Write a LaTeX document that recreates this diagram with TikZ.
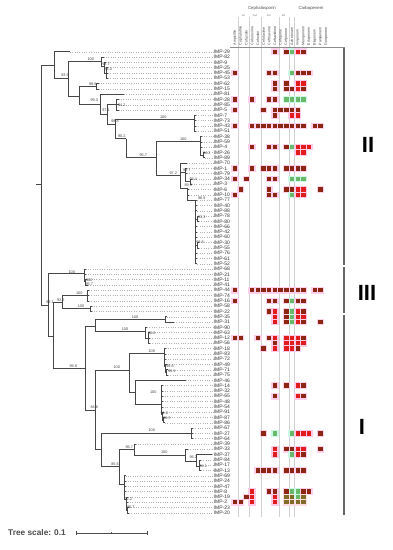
\documentclass[tikz,border=0pt]{standalone}
\usepackage{fontspec}
\setmainfont{Liberation Sans}
\definecolor{cB}{RGB}{140,38,18}
\definecolor{cR}{RGB}{226,28,28}
\definecolor{cG}{RGB}{105,185,105}
\definecolor{cO}{RGB}{128,108,38}
\definecolor{hB}{RGB}{255,208,236}
\definecolor{hR}{RGB}{255,202,232}
\definecolor{hG}{RGB}{205,250,232}
\definecolor{hO}{RGB}{250,222,228}
\tikzset{
  branch/.style={draw=black!72, line width=0.6pt},
  leader/.style={draw=black!30, dotted, line width=0.35pt},
  leaflab/.style={anchor=west, inner sep=0pt, text=black!80, font=\fontsize{5}{5}\selectfont},
  boot/.style={inner sep=0pt, text=black!75, font=\fontsize{3.8}{4}\selectfont},
  druglab/.style={rotate=90, anchor=west, inner sep=0pt, text=black!75, font=\fontsize{3.6}{4}\selectfont},
  classlab/.style={inner sep=0pt, text=black!70, font=\fontsize{4.3}{5}\selectfont},
  genlab/.style={inner sep=0pt, text=black!60, font=\fontsize{2.4}{3}\selectfont},
  gridline/.style={draw=black!18, line width=0.5pt},
  groupbar/.style={draw=black!60, line width=1.3pt},
  grouplab/.style={inner sep=0pt, font=\fontsize{22}{22}\selectfont\bfseries},
}
\begin{document}
\begin{tikzpicture}[x=1pt,y=-1pt]
    \useasboundingbox (0,0) rectangle (392,550);
    % Colonnes de la carte
    \foreach \gx in {238.3,249.6,260.8,278.8,289.6,294.3}
        \draw[gridline] (\gx,17) -- (\gx,517);
    \node[classlab] (ceph) at (262,8.5) {Cephalosporin};
    \node[classlab] (carb) at (311,8.5) {Carbapenem};
    \node[genlab] (g1) at (243.5,16) {1st};
    \node[genlab] (g2) at (254.9,16) {2nd};
    \node[genlab] (g3) at (268.7,16) {3rd};
    \node[genlab] (g4) at (283.5,16) {4th};
    \foreach \dn [count=\k from 0] in {Ampicillin,Cephalothin,Cefazolin,Cefuroxime,Cefoxitin,Cefotaxime,Ceftriaxone,Ceftazidime,Cefepime,Cefpirome,Aztreonam,Imipenem,Meropenem,Ertapenem,Biapenem,Panipenem,Doripenem}
        \node[druglab] (d\k) at ({235+5.7*\k},45.5) {\dn};
    \coordinate (hl) at (230,47.5);
    \coordinate (hr) at (345,47.5);
    \draw[draw=black!45, line width=0.5pt] (hl) -- (hr);
    % Carte de chaleur
    \foreach \r/\k/\cc in {0/7/B,0/9/B,0/10/G,0/11/R,0/12/B,
        4/0/B,4/6/B,4/7/B,4/10/G,4/11/B,4/12/B,4/13/B,
        6/7/B,6/9/B,6/11/R,6/12/R,
        7/7/B,7/9/B,7/10/B,7/11/R,7/12/B,
        9/0/B,9/3/B,9/6/B,9/7/B,9/9/G,9/10/G,9/11/G,9/12/G,
        11/0/B,11/5/B,11/7/B,11/8/B,11/9/B,11/10/B,11/11/B,
        12/7/B,12/10/R,12/11/R,
        14/0/B,14/3/B,14/4/B,14/5/B,14/6/B,14/7/B,14/8/B,14/9/B,14/10/B,14/11/B,14/12/B,14/14/B,14/15/B,
        18/3/B,18/6/B,18/7/B,18/9/B,18/10/G,18/11/R,18/12/R,18/13/R,
        19/11/R,19/12/R,
        22/0/B,22/3/B,22/5/B,22/6/B,22/7/B,22/9/B,22/10/B,22/11/B,22/12/B,
        24/0/B,24/2/B,24/6/B,24/7/B,24/10/G,24/11/G,24/12/G,
        26/1/B,26/6/B,26/9/B,26/10/B,26/11/R,26/12/R,26/15/B,
        27/0/B,27/6/B,27/7/B,27/10/G,27/11/R,27/12/R,
        45/0/B,45/3/B,45/4/B,45/5/B,45/6/B,45/7/B,45/8/B,45/9/B,45/10/B,45/11/B,45/12/B,45/14/B,45/15/B,
        47/0/B,47/6/B,47/7/B,47/9/B,47/10/G,47/11/B,47/12/B,
        49/6/B,49/7/R,49/9/B,49/10/G,49/11/R,49/12/B,
        50/7/R,50/9/B,50/10/G,50/11/R,50/12/R,
        51/7/R,51/9/B,51/10/G,51/11/R,51/12/B,51/15/B,
        54/0/B,54/1/B,54/4/B,54/6/B,54/7/R,54/9/R,54/10/R,54/11/R,54/12/B,
        55/7/B,55/9/R,55/10/R,55/11/R,55/12/R,
        56/5/B,56/7/R,56/9/R,56/10/R,56/11/B,
        63/7/B,63/9/B,63/11/R,63/12/B,
        65/7/B,65/11/R,65/12/B,
        72/5/B,72/7/G,72/10/G,72/11/R,72/12/R,72/13/R,72/15/B,
        75/7/R,75/9/B,75/10/B,75/11/R,75/12/R,75/15/B,
        76/7/R,76/10/G,76/11/R,76/12/B,
        79/4/B,79/5/B,79/6/B,79/7/B,79/9/B,79/10/B,79/11/B,79/12/B,
        83/3/R,83/6/B,83/7/B,83/9/B,83/10/G,83/11/G,83/12/B,83/13/B,
        84/2/B,84/3/R,84/7/R,84/9/O,84/10/O,84/11/G,84/12/O,
        85/0/B,85/1/B,85/3/R,85/7/R,85/9/O,85/10/O,85/11/O,85/12/O}
    {
        \fill[h\cc] ({235+5.7*\k-3.7},{51.7+5.3*\r-3.3}) rectangle ++(7.4,6.6);
    }
    \foreach \r/\k/\cc in {0/7/B,0/9/B,0/10/G,0/11/R,0/12/B,
        4/0/B,4/6/B,4/7/B,4/10/G,4/11/B,4/12/B,4/13/B,
        6/7/B,6/9/B,6/11/R,6/12/R,
        7/7/B,7/9/B,7/10/B,7/11/R,7/12/B,
        9/0/B,9/3/B,9/6/B,9/7/B,9/9/G,9/10/G,9/11/G,9/12/G,
        11/0/B,11/5/B,11/7/B,11/8/B,11/9/B,11/10/B,11/11/B,
        12/7/B,12/10/R,12/11/R,
        14/0/B,14/3/B,14/4/B,14/5/B,14/6/B,14/7/B,14/8/B,14/9/B,14/10/B,14/11/B,14/12/B,14/14/B,14/15/B,
        18/3/B,18/6/B,18/7/B,18/9/B,18/10/G,18/11/R,18/12/R,18/13/R,
        19/11/R,19/12/R,
        22/0/B,22/3/B,22/5/B,22/6/B,22/7/B,22/9/B,22/10/B,22/11/B,22/12/B,
        24/0/B,24/2/B,24/6/B,24/7/B,24/10/G,24/11/G,24/12/G,
        26/1/B,26/6/B,26/9/B,26/10/B,26/11/R,26/12/R,26/15/B,
        27/0/B,27/6/B,27/7/B,27/10/G,27/11/R,27/12/R,
        45/0/B,45/3/B,45/4/B,45/5/B,45/6/B,45/7/B,45/8/B,45/9/B,45/10/B,45/11/B,45/12/B,45/14/B,45/15/B,
        47/0/B,47/6/B,47/7/B,47/9/B,47/10/G,47/11/B,47/12/B,
        49/6/B,49/7/R,49/9/B,49/10/G,49/11/R,49/12/B,
        50/7/R,50/9/B,50/10/G,50/11/R,50/12/R,
        51/7/R,51/9/B,51/10/G,51/11/R,51/12/B,51/15/B,
        54/0/B,54/1/B,54/4/B,54/6/B,54/7/R,54/9/R,54/10/R,54/11/R,54/12/B,
        55/7/B,55/9/R,55/10/R,55/11/R,55/12/R,
        56/5/B,56/7/R,56/9/R,56/10/R,56/11/B,
        63/7/B,63/9/B,63/11/R,63/12/B,
        65/7/B,65/11/R,65/12/B,
        72/5/B,72/7/G,72/10/G,72/11/R,72/12/R,72/13/R,72/15/B,
        75/7/R,75/9/B,75/10/B,75/11/R,75/12/R,75/15/B,
        76/7/R,76/10/G,76/11/R,76/12/B,
        79/4/B,79/5/B,79/6/B,79/7/B,79/9/B,79/10/B,79/11/B,79/12/B,
        83/3/R,83/6/B,83/7/B,83/9/B,83/10/G,83/11/G,83/12/B,83/13/B,
        84/2/B,84/3/R,84/7/R,84/9/O,84/10/O,84/11/G,84/12/O,
        85/0/B,85/1/B,85/3/R,85/7/R,85/9/O,85/10/O,85/11/O,85/12/O}
    {
        \fill[c\cc] ({235+5.7*\k-2.2},{51.7+5.3*\r-2.2}) rectangle ++(4.4,4.4);
    }
    % Noeuds internes
    \coordinate (stub) at (36,184);
    \coordinate (root) at (41,184);
    \coordinate (A) at (54.3,65);
    \coordinate (B) at (68.3,78.3);
    \coordinate (C) at (101.7,61.7);
    \coordinate (C1) at (104,66.5);
    \coordinate (C2) at (106.3,72.9);
    \coordinate (D) at (79.3,96.7);
    \coordinate (E) at (96.7,86.2);
    \coordinate (F) at (100,104);
    \coordinate (G) at (107.7,114);
    \coordinate (H) at (116.7,104.7);
    \coordinate (I) at (115,124);
    \coordinate (Pc) at (194.3,119);
    \coordinate (J) at (126,138.5);
    \coordinate (K) at (156.7,157.3);
    \coordinate (Qc) at (200,141.7);
    \coordinate (Qd) at (203,155);
    \coordinate (L) at (180,175.7);
    \coordinate (L1a) at (185.3,172);
    \coordinate (L1b) at (190,181.5);
    \coordinate (L2) at (187.3,188);
    \coordinate (L3) at (195.7,200);
    \coordinate (N1) at (197.5,219);
    \coordinate (N2) at (197.5,245);
    \coordinate (M) at (48.3,305);
    \coordinate (N) at (84,273.3);
    \coordinate (Na) at (85.5,281);
    \coordinate (Nb) at (86.5,284.9);
    \coordinate (P) at (53.3,336.7);
    \coordinate (Q) at (62.7,302);
    \coordinate (Qa) at (87.3,295.5);
    \coordinate (Qb) at (90,308.7);
    \coordinate (R) at (85,368.3);
    \coordinate (S) at (95,326);
    \coordinate (S1) at (165,319.3);
    \coordinate (S2) at (145.7,331.7);
    \coordinate (S2a) at (148.5,338);
    \coordinate (T) at (95,410);
    \coordinate (U) at (129.3,370);
    \coordinate (U1) at (164,353.3);
    \coordinate (U1a) at (165.3,366.7);
    \coordinate (U1b) at (166.3,372.3);
    \coordinate (U2) at (135.7,392);
    \coordinate (U2b) at (161,404);
    \coordinate (U2c) at (162.3,414.7);
    \coordinate (U2d) at (163.3,420);
    \coordinate (V) at (101.7,449);
    \coordinate (V1) at (191.7,433);
    \coordinate (V2) at (119.3,466.7);
    \coordinate (W) at (134,449.3);
    \coordinate (W2) at (185,455);
    \coordinate (W3) at (196.7,461.7);
    \coordinate (W4) at (199.3,466.7);
    \coordinate (X) at (124,484);
    \coordinate (X1) at (126.3,499.5);
    \coordinate (X2) at (127.7,510);
    % Branches
    \draw[branch] (stub) -- (root);
    \foreach \pa/\ch in {root/A,root/M,A/B,B/C,B/D,C/C1,C1/C2,D/E,D/F,F/G,G/H,G/I,I/Pc,I/J,J/K,K/Qc,K/L,Qc/Qd,
        L/L1a,L1a/L1b,L/L2,L2/L3,L3/N1,L3/N2,M/N,M/P,N/Na,Na/Nb,P/Q,P/R,Q/Qa,Q/Qb,R/S,R/T,S/S1,S/S2,S2/S2a,
        T/U,T/V,U/U1,U/U2,U1/U1a,U1a/U1b,U2/U2b,U2b/U2c,U2c/U2d,V/V1,V/V2,V2/W,V2/X,W/W2,W2/W3,W3/W4,X/X1,X1/X2}
        \draw[branch] (\pa) |- (\ch);
    % Feuilles
    \foreach \n [count=\i from 0] in {29,82,9,25,45,53,62,15,81,28,85,5,7,73,43,51,38,59,4,26,89,70,1,79,34,3,6,10,77,40,
        88,78,80,66,42,60,30,55,76,61,52,68,21,11,41,44,74,16,58,22,35,31,90,63,12,56,18,83,72,49,71,75,46,14,32,65,48,
        54,91,87,86,67,27,64,39,33,37,84,17,13,69,24,47,8,19,2,23,20}
        \node[leaflab] (l\i) at (213.5,{51.7+5.3*\i}) {IMP-\n};
    \foreach \i/\tx/\pa in {0/70/A,1/103.5/C,2/105.5/C1,3/108/C2,4/108/C2,5/108/C2,6/98.5/E,7/98.5/E,8/124/F,
        9/118.5/H,10/118.5/H,11/118.5/H,12/196/Pc,13/196/Pc,14/196/Pc,15/196/Pc,16/201.5/Qc,17/201.5/Qc,18/201.5/Qc,
        19/204.5/Qd,20/204.5/Qd,21/187/L,22/187/L1a,23/187/L1a,24/191.5/L1b,25/191.5/L1b,26/189/L2,27/189/L2,
        28/197.3/L3,29/197.3/L3,30/197.3/L3,31/199/N1,32/199/N1,33/197.3/L3,34/197.3/L3,35/197.3/L3,36/199/N2,
        37/199/N2,38/197.3/L3,39/197.3/L3,40/197.3/L3,41/85.5/N,42/85.5/N,43/87/Na,44/88/Nb,45/89/Qa,46/89/Qa,
        47/89/Qa,48/91.5/Qb,49/91.5/Qb,50/166.5/S1,51/174/S1,52/147/S2,53/150/S2a,54/150/S2a,55/150/S2a,
        56/165.5/U1,57/165.5/U1,58/165.5/U1,59/167/U1a,60/168/U1b,61/168/U1b,62/185.7/U2,63/162.5/U2b,
        64/162.5/U2b,65/162.5/U2b,66/162.5/U2b,67/162.5/U2b,68/164/U2c,69/165/U2d,70/165/U2d,71/193/V1,
        72/193/V1,73/193/V1,74/135.5/W,75/188/W2,76/212/W3,77/201/W4,78/201/W4,79/201/W4,80/125.5/X,
        81/125.5/X,82/125.5/X,83/125.5/X,84/127.5/X1,85/127.5/X1,86/129/X2,87/129/X2}
    {
        \coordinate (t\i) at (\tx,{51.7+5.3*\i});
        \draw[branch] (\pa) |- (t\i);
        \draw[leader] (t\i) -- (l\i.west);
    }
    % Valeurs de bootstrap
    \foreach \bx/\by/\bt [count=\j] in {65/75.5/93.9,90.7/59.3/100,106/64/98.7,108.3/69.3/84.0,92.7/84/99.9,
        94.3/100.5/99.3,106/110/97.1,121.7/105/94.2,115/121/98.8,121.7/136.5/90.2,163.3/117.3/100,143.3/155/95.7,
        183.3/139.3/100,206.7/152.7/94.2,173.3/173.3/97.2,186.7/170/99.7,193.3/179/93.4,188.3/185.3/89.9,
        201.7/197.7/96.9,201.7/216.7/93.3,200/242.3/99.8,71.7/271.7/100,89.3/280.5/100,89.3/284.5/95.7,
        50/302.3/99.1,60.7/300.5/93.2,79.3/293.5/100,81/306.5/100,135/317.3/100,125/329.3/100,151.7/332.7/92.8,
        151.7/351/100,116.7/367.5/100,170/365.7/99.6,171.7/370.7/99.3,73.3/365.7/99.8,153.3/392.3/100,
        164.3/413.3/91.0,166.7/417.7/90.5,94.3/407.3/84.6,151.7/430.5/100,129.3/447/96.7,164.3/452.3/100,
        193.3/457.3/96.2,115/464.5/85.6,203.3/465.7/94.1,128.3/499.3/92.2,130.7/506.7/90.7}
        \node[boot] (b\j) at (\bx,\by) {\bt};
    % Groupes
    \coordinate (gA) at (344,47.5);
    \coordinate (gB) at (344,265.3);
    \coordinate (gC) at (344,267.3);
    \coordinate (gD) at (344,312.8);
    \coordinate (gE) at (344,314.8);
    \coordinate (gF) at (344,515);
    \draw[groupbar] (gA) -- (gB);
    \draw[groupbar] (gC) -- (gD);
    \draw[groupbar] (gE) -- (gF);
    \node[grouplab] (gII) at (368,145) {II};
    \node[grouplab] (gIII) at (367,293) {III};
    \node[grouplab] (gI) at (362,427) {I};
    % Echelle
    \node[inner sep=0pt, text=black!70, font=\fontsize{8.3}{9}\selectfont\bfseries] (scale) at (37,533) {Tree scale: 0.1};
    \coordinate (sbL) at (76,533);
    \coordinate (sbM) at (111.5,533);
    \coordinate (sbR) at (147,533);
    \draw[draw=black!70, line width=0.6pt] (sbL) -- (sbR);
    \draw[draw=black!70, line width=0.6pt] (sbL) ++(0,-2.2) -- ++(0,4.4);
    \draw[draw=black!70, line width=0.6pt] (sbR) ++(0,-2.2) -- ++(0,4.4);
    \draw[draw=black!70, line width=0.5pt] (sbM) ++(0,-1) -- ++(0,2);
\end{tikzpicture}
\end{document}
